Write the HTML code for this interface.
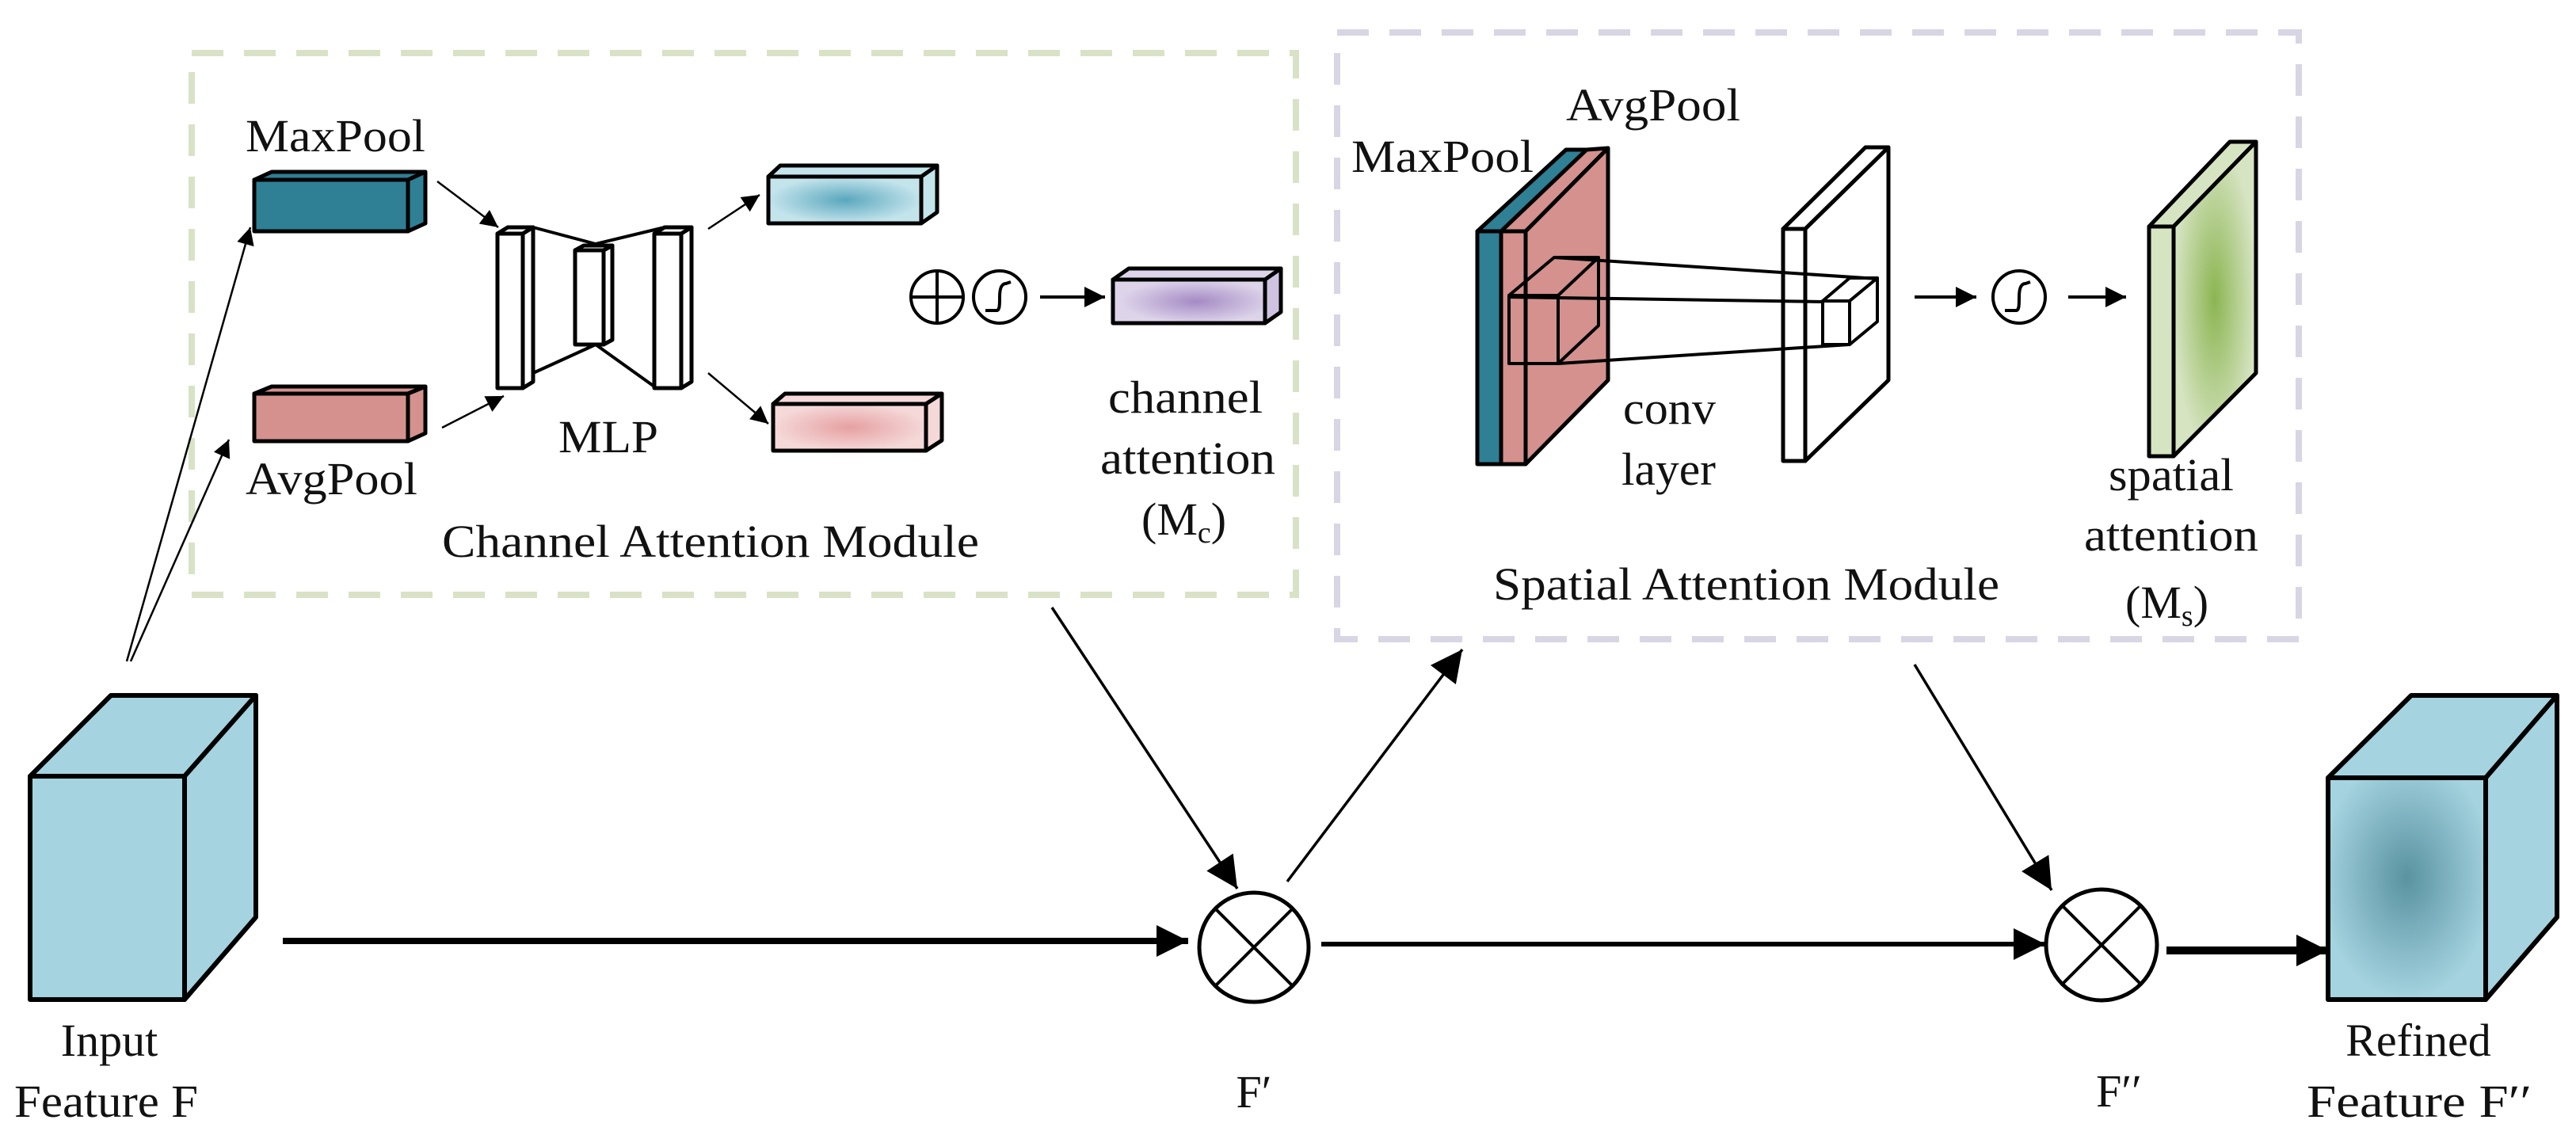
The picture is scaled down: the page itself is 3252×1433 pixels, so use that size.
<!DOCTYPE html>
<html><head><meta charset="utf-8"><style>
html,body{margin:0;padding:0;background:#fff}
svg{display:block}
text{font-family:"Liberation Serif",serif;font-size:58px;fill:#111}
</style></head><body>
<svg width="3252" height="1433" viewBox="0 0 3252 1433" xmlns="http://www.w3.org/2000/svg">
<defs>
<marker id="ah" viewBox="0 0 10 10" refX="10" refY="5" markerWidth="26" markerHeight="22" markerUnits="userSpaceOnUse" orient="auto"><path d="M0,0L10,5L0,10z" fill="#000"/></marker>
<marker id="ahm" viewBox="0 0 10 10" refX="10" refY="5" markerWidth="30" markerHeight="26" markerUnits="userSpaceOnUse" orient="auto"><path d="M0,0L10,5L0,10z" fill="#000"/></marker>
<marker id="ahb" viewBox="0 0 10 10" refX="10" refY="5" markerWidth="42" markerHeight="40" orient="auto" markerUnits="userSpaceOnUse"><path d="M0,0L10,5L0,10z" fill="#000"/></marker>
<radialGradient id="gBlue" cx="0.5" cy="0.5" r="0.5"><stop offset="0" stop-color="#5aa7bd"/><stop offset="1" stop-color="#c4e4ec"/></radialGradient>
<radialGradient id="gPink" cx="0.5" cy="0.5" r="0.5"><stop offset="0" stop-color="#e6a0a2"/><stop offset="1" stop-color="#f5d8d8"/></radialGradient>
<radialGradient id="gPurp" cx="0.55" cy="0.5" r="0.5"><stop offset="0" stop-color="#a58ac4"/><stop offset="1" stop-color="#ddd4ea"/></radialGradient>
<radialGradient id="gGreen" cx="0.5" cy="0.5" r="0.5"><stop offset="0" stop-color="#8cb552"/><stop offset="1" stop-color="#d6e4c2"/></radialGradient>
<radialGradient id="gRef" cx="0.5" cy="0.45" r="0.55"><stop offset="0" stop-color="#5a93a1"/><stop offset="1" stop-color="#a5d3e0"/></radialGradient>
</defs>

<rect x="242" y="67" width="1394" height="684" fill="none" stroke="#d9e2c6" stroke-width="8" stroke-dasharray="40,26"/>
<rect x="1688" y="41" width="1214" height="766" fill="none" stroke="#d8d6e4" stroke-width="8" stroke-dasharray="40,26"/>

<g stroke="#000" stroke-width="5" stroke-linejoin="round">
<polygon points="321,227 343,217 537,217 515,227" fill="#2f7f95"/>
<polygon points="515,227 537,217 537,282 515,292" fill="#2f7f95"/>
<rect x="321" y="227" width="194" height="65" fill="#2f7f95"/>
<polygon points="321,497 343,488 537,488 515,497" fill="#d4918e"/>
<polygon points="515,497 537,488 537,547 515,557" fill="#d4918e"/>
<rect x="321" y="497" width="194" height="60" fill="#d4918e"/>
<polygon points="628,295 641,287 673,287 660,295" fill="#fff"/>
<polygon points="660,295 673,287 673,482 660,490" fill="#fff"/>
<rect x="628" y="295" width="32" height="195" fill="#fff"/>
<polygon points="726,316 737,310 773,310 762,316" fill="#fff"/>
<polygon points="762,316 773,310 773,429 762,435" fill="#fff"/>
<rect x="726" y="316" width="36" height="119" fill="#fff"/>
<polygon points="826,295 839,287 873,287 860,295" fill="#fff"/>
<polygon points="860,295 873,287 873,482 860,490" fill="#fff"/>
<rect x="826" y="295" width="34" height="195" fill="#fff"/>
<polyline points="673,287 752,308 839,287" fill="none" stroke-width="4"/>
<polyline points="673,471 752,435 826,488" fill="none" stroke-width="4"/>
<polygon points="970,223 985,209 1183,209 1163,223" fill="#c4e4ec"/>
<polygon points="1163,223 1183,209 1183,268 1163,282" fill="#c4e4ec"/>
<rect x="970" y="223" width="193" height="59" fill="url(#gBlue)"/>
<polygon points="976,510 991,497 1189,497 1169,510" fill="#f5d8d8"/>
<polygon points="1169,510 1189,497 1189,556 1169,569" fill="#f5d8d8"/>
<rect x="976" y="510" width="193" height="59" fill="url(#gPink)"/>
<polygon points="1405,353 1425,339 1617,339 1597,353" fill="#ddd4ea"/>
<polygon points="1597,353 1617,339 1617,394 1597,408" fill="#cfc3e2"/>
<rect x="1405" y="353" width="192" height="55" fill="url(#gPurp)"/>
</g>

<g fill="none" stroke="#000" stroke-width="4">
<circle cx="1183" cy="375" r="33"/>
<line x1="1150" y1="375" x2="1216" y2="375"/><line x1="1183" y1="342" x2="1183" y2="408"/>
<circle cx="1262" cy="375" r="33"/>
<path d="M1244,392 L1258,392 C1262,392 1262,385 1262,375 C1262,365 1264,358 1270,358 L1276,356"/>
</g>

<g stroke="#000" stroke-width="2.5" fill="none">
<line x1="160" y1="835" x2="316" y2="287" marker-end="url(#ah)"/>
<line x1="165" y1="835" x2="289" y2="555" marker-end="url(#ah)"/>
<line x1="552" y1="229" x2="629" y2="287" marker-end="url(#ah)"/>
<line x1="558" y1="540" x2="636" y2="500" marker-end="url(#ah)"/>
<line x1="894" y1="289" x2="959" y2="246" marker-end="url(#ah)"/>
<line x1="894" y1="471" x2="970" y2="535" marker-end="url(#ah)"/>
<line x1="1313" y1="375" x2="1395" y2="375" stroke-width="4" marker-end="url(#ahm)"/>
</g>

<g stroke="#000" stroke-width="5" stroke-linejoin="round">
<polygon points="1865,292 1977,189 2003,189 1895,292" fill="#2f7f95"/>
<rect x="1865" y="292" width="30" height="294" fill="#2f7f95"/>
<polygon points="1895,292 2003,189 2030,187 1926,292" fill="#d4918e"/>
<polygon points="1926,292 2030,187 2030,480 1926,586" fill="#d4918e"/>
<rect x="1895" y="292" width="31" height="294" fill="#d4918e"/>
<g fill="none" stroke-width="4">
<rect x="1905" y="373" width="62" height="86"/>
<polyline points="1905,373 1962,325 2018,325 1967,373"/>
<polyline points="2018,325 2018,411 1967,459"/>
</g>
<polygon points="2251,289 2355,186 2384,186 2279,289" fill="#fff"/>
<polygon points="2279,289 2384,186 2384,480 2279,582" fill="#fff"/>
<rect x="2251" y="289" width="28" height="293" fill="#fff"/>
<g fill="#fff" stroke-width="4">
<polygon points="2301,380 2335,351 2370,351 2335,380"/>
<polygon points="2335,380 2370,351 2370,406 2335,435"/>
<rect x="2301" y="380" width="34" height="55"/>
</g>
<g stroke-width="4">
<line x1="1962" y1="325" x2="2370" y2="352"/>
<line x1="1905" y1="375" x2="2301" y2="381"/>
<line x1="1967" y1="459" x2="2335" y2="435"/>
</g>
<polygon points="2713,286 2815,179 2848,179 2744,286" fill="#d6e4c2"/>
<polygon points="2744,286 2848,179 2848,471 2744,576" fill="url(#gGreen)"/>
<rect x="2713" y="286" width="31" height="290" fill="#d6e4c2"/>
</g>
<g fill="none" stroke="#000" stroke-width="4">
<line x1="2417" y1="375" x2="2495" y2="375" marker-end="url(#ahm)"/>
<circle cx="2549" cy="375" r="33"/>
<path d="M2531,392 L2545,392 C2549,392 2549,385 2549,375 C2549,365 2551,358 2557,358 L2563,356"/>
<line x1="2611" y1="375" x2="2684" y2="375" marker-end="url(#ahm)"/>
</g>

<g stroke="#000" stroke-width="6" stroke-linejoin="round">
<polygon points="38,980 140,878 323,878 233,980" fill="#a5d3e0"/>
<polygon points="233,980 323,878 323,1158 233,1262" fill="#a5d3e0"/>
<rect x="38" y="980" width="195" height="282" fill="#a5d3e0"/>
<polygon points="2939,982 3044,878 3228,878 3138,982" fill="#a5d3e0"/>
<polygon points="3138,982 3228,878 3228,1158 3138,1262" fill="#a5d3e0"/>
<rect x="2939" y="982" width="199" height="280" fill="url(#gRef)"/>
</g>

<g fill="none" stroke="#000">
<line x1="357" y1="1188" x2="1500" y2="1188" stroke-width="8" marker-end="url(#ahb)"/>
<circle cx="1583" cy="1196" r="69" stroke-width="5"/>
<line x1="1535" y1="1148" x2="1631" y2="1244" stroke-width="4"/>
<line x1="1631" y1="1148" x2="1535" y2="1244" stroke-width="4"/>
<line x1="1668" y1="1192" x2="2582" y2="1192" stroke-width="6" marker-end="url(#ahb)"/>
<circle cx="2653" cy="1193" r="70" stroke-width="5"/>
<line x1="2604" y1="1144" x2="2702" y2="1242" stroke-width="4"/>
<line x1="2702" y1="1144" x2="2604" y2="1242" stroke-width="4"/>
<line x1="2735" y1="1200" x2="2939" y2="1200" stroke-width="10" marker-end="url(#ahb)"/>
<line x1="1328" y1="767" x2="1562" y2="1122" stroke-width="3.5" marker-end="url(#ahb)"/>
<line x1="1625" y1="1113" x2="1846" y2="820" stroke-width="3.5" marker-end="url(#ahb)"/>
<line x1="2417" y1="839" x2="2590" y2="1124" stroke-width="3.5" marker-end="url(#ahb)"/>
</g>

<text x="310" y="191" textLength="227" lengthAdjust="spacingAndGlyphs">MaxPool</text>
<text x="310" y="624" textLength="217" lengthAdjust="spacingAndGlyphs">AvgPool</text>
<text x="705" y="571" textLength="126" lengthAdjust="spacingAndGlyphs">MLP</text>
<text x="1399" y="521" textLength="195" lengthAdjust="spacingAndGlyphs">channel</text>
<text x="1389" y="598" textLength="221" lengthAdjust="spacingAndGlyphs">attention</text>
<text x="1441" y="675">(M<tspan font-size="38" dy="10">c</tspan><tspan dy="-10">)</tspan></text>
<text x="558" y="703" textLength="678" lengthAdjust="spacingAndGlyphs">Channel Attention Module</text>
<text x="1706" y="217" textLength="230" lengthAdjust="spacingAndGlyphs">MaxPool</text>
<text x="1977" y="152" textLength="220" lengthAdjust="spacingAndGlyphs">AvgPool</text>
<text x="2049" y="535" textLength="117" lengthAdjust="spacingAndGlyphs">conv</text>
<text x="2047" y="612" textLength="119" lengthAdjust="spacingAndGlyphs">layer</text>
<text x="2662" y="619" textLength="158" lengthAdjust="spacingAndGlyphs">spatial</text>
<text x="2631" y="695" textLength="220" lengthAdjust="spacingAndGlyphs">attention</text>
<text x="2683" y="780">(M<tspan font-size="38" dy="10">s</tspan><tspan dy="-10">)</tspan></text>
<text x="1885" y="757" textLength="639" lengthAdjust="spacingAndGlyphs">Spatial Attention Module</text>
<text x="138" y="1333" text-anchor="middle">Input</text>
<text x="18" y="1410" textLength="232" lengthAdjust="spacingAndGlyphs">Feature F</text>
<text x="1583" y="1398" text-anchor="middle">F′</text>
<text x="2675" y="1397" text-anchor="middle">F′′</text>
<text x="3053" y="1333" text-anchor="middle">Refined</text>
<text x="2912" y="1410" textLength="284" lengthAdjust="spacingAndGlyphs">Feature F′′</text>
</svg>
</body></html>
